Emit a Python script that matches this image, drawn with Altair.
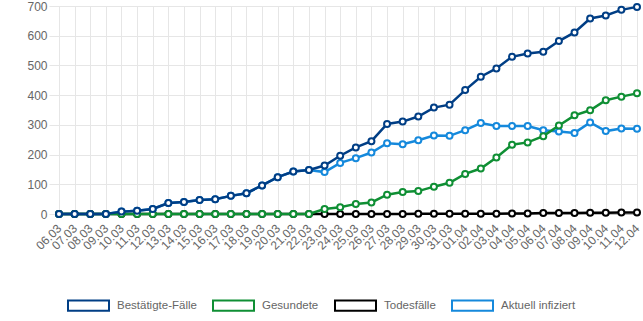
import altair as alt
import pandas as pd

dates = ["06.03", "07.03", "08.03", "09.03", "10.03", "11.03", "12.03", "13.03", "14.03", "15.03",
         "16.03", "17.03", "18.03", "19.03", "20.03", "21.03", "22.03", "23.03", "24.03", "25.03",
         "26.03", "27.03", "28.03", "29.03", "30.03", "31.03", "01.04", "02.04", "03.04", "04.04",
         "05.04", "06.04", "07.04", "08.04", "09.04", "10.04", "11.04", "12.04"]

bestaetigt = [0, 0, 0, 0, 8, 11, 17, 37, 40, 47,
              50, 61, 70, 96, 124, 143, 148, 163, 196, 224,
              245, 303, 311, 328, 358, 368, 417, 462, 490, 529,
              540, 546, 582, 611, 658, 668, 687, 697]

gesundete = [0, 0, 0, 0, 0, 0, 0, 0, 0, 0,
             0, 0, 0, 0, 0, 0, 0, 17, 23, 34,
             39, 65, 74, 77, 92, 105, 135, 153, 190, 233,
             241, 262, 298, 332, 349, 383, 395, 406]

todesfaelle = [0, 0, 0, 0, 0, 0, 0, 0, 0, 0,
               0, 0, 0, 0, 0, 0, 0, 0, 0, 0,
               0, 0, 0, 1, 1, 1, 1, 1, 1, 2,
               2, 3, 3, 3, 4, 4, 5, 5]

aktuell = [0, 0, 0, 0, 8, 11, 17, 37, 40, 47,
           50, 61, 70, 96, 124, 143, 148, 141, 172, 188,
           207, 238, 235, 248, 264, 263, 282, 306, 296, 296,
           296, 282, 278, 273, 308, 279, 288, 287]

series_names = ["Bestätigte-Fälle", "Gesundete", "Todesfälle", "Aktuell infiziert"]
series_colors = ["#003e85", "#0f8f34", "#000000", "#1589dc"]
series_values = [bestaetigt, gesundete, todesfaelle, aktuell]
y_ticks = [0, 100, 200, 300, 400, 500, 600, 700]

rows = []
for name, vals in zip(series_names, series_values):
    for d, v in zip(dates, vals):
        rows.append({"Datum": d, "Serie": name, "Wert": v})
df = pd.DataFrame(rows)

FONT = "Liberation Sans"

color = alt.Color(
    "Serie:N",
    scale=alt.Scale(domain=series_names, range=series_colors),
    legend=alt.Legend(
        title=None,
        orient="none",
        legendX=8,
        legendY=278,
        direction="horizontal",
        columns=4,
        symbolType="M-1,-0.25L1,-0.25L1,0.25L-1,0.25Z",
        symbolSize=1681,
        symbolStrokeWidth=2,
        symbolFillColor="white",
        symbolOpacity=1,
        labelFont=FONT,
        labelFontSize=11.5,
        labelColor="#666666",
        labelOffset=7,
        columnPadding=12,
        padding=0,
    ),
)

x = alt.X(
    "Datum:O",
    sort=dates,
    scale=alt.Scale(type="point", padding=0),
    axis=alt.Axis(
        title=None,
        labelAngle=-45,
        labelAlign="right",
        labelBaseline="middle",
        labelFont=FONT,
        labelFontSize=12,
        labelColor="#666666",
        labelPadding=12,
        ticks=False,
        grid=True,
        gridColor="#e6e6e6",
        domainColor="#bdbdbd",
        domainWidth=1,
        labelOverlap=False,
    ),
)

y = alt.Y(
    "Wert:Q",
    scale=alt.Scale(domain=[0, 700], nice=False),
    axis=alt.Axis(
        title=None,
        values=y_ticks,
        labelFont=FONT,
        labelFontSize=12,
        labelColor="#666666",
        labelPadding=2,
        tickSize=10,
        tickColor="#e6e6e6",
        grid=True,
        gridColor="#e6e6e6",
        domain=False,
    ),
)

layers = []
for name in reversed(series_names):
    base = alt.Chart(df).transform_filter(alt.datum.Serie == name)
    line = base.mark_line(strokeWidth=2.5).encode(x=x, y=y, color=color)
    pts = base.mark_point(
        shape="circle", filled=False, fill="white", fillOpacity=1,
        size=36, strokeWidth=2, opacity=1
    ).encode(x=x, y=y, color=color)
    layers += [line, pts]

chart = alt.layer(*layers).properties(
    width=578,
    height=208,
    autosize=alt.AutoSizeParams(type="none"),
    padding={"left": 59, "top": 6, "right": 6, "bottom": 107},
).configure_view(stroke=None).configure(background="white")

chart.save("out.html", embed_options={"renderer": "svg", "actions": False})
